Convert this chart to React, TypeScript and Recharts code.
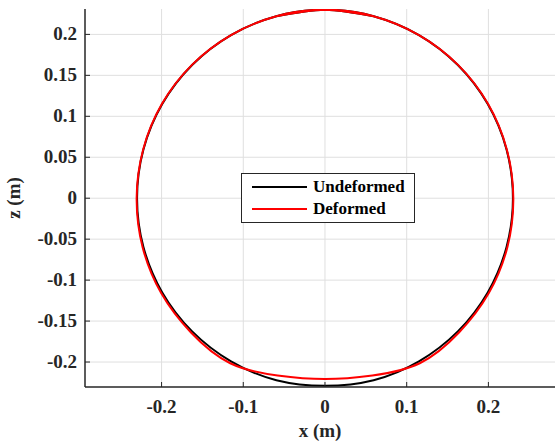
import { LineChart, Line, XAxis, YAxis, CartesianGrid, Legend } from "recharts"

// cross-section of the shell, x/z in metres (every ~15 deg, starting near the top)
const undeformedX = [0.0595, 0, -0.0595, -0.115, -0.1626, -0.1992, -0.2222, -0.23, -0.2222, -0.1992, -0.1626, -0.115, -0.0595, 0, 0.0595, 0.115, 0.1626, 0.1992, 0.2222, 0.23, 0.2222, 0.1992, 0.1626, 0.115, 0.0595, 0, -0.0595]
const undeformedZ = [0.2222, 0.23, 0.2222, 0.1992, 0.1626, 0.115, 0.0595, 0, -0.0595, -0.115, -0.1626, -0.1992, -0.2222, -0.229, -0.2222, -0.1992, -0.1626, -0.115, -0.0595, 0, 0.0595, 0.115, 0.1626, 0.1992, 0.2222, 0.23, 0.2222]

const deformedX = [0.0595, 0, -0.0595, -0.115, -0.1628, -0.1995, -0.2225, -0.2305, -0.2232, -0.2005, -0.164, -0.116, -0.058, 0, 0.058, 0.116, 0.164, 0.2005, 0.2232, 0.2305, 0.2225, 0.1995, 0.1628, 0.115, 0.0595, 0, -0.0595]
const deformedZ = [0.2222, 0.23, 0.2222, 0.1992, 0.1628, 0.1152, 0.0596, 0, -0.0598, -0.1158, -0.164, -0.2015, -0.2165, -0.2208, -0.2165, -0.2015, -0.164, -0.1158, -0.0598, 0, 0.0596, 0.1152, 0.1628, 0.1992, 0.2222, 0.23, 0.2222]

const xTicks = [-0.2, -0.1, 0, 0.1, 0.2]
const zTicks = [-0.2, -0.15, -0.1, -0.05, 0, 0.05, 0.1, 0.15, 0.2]

const seriesNames = ["Undeformed", "Deformed"]
const seriesColors = ["#000000", "#ff0000"]

const undeformed = undeformedX.map((x, i) => ({ x, z: undeformedZ[i] }))
const deformed = deformedX.map((x, i) => ({ x, z: deformedZ[i] }))

const FONT = "Liberation Serif, Times New Roman, serif"
const INK = "#262626"
const textStyle = { fontFamily: FONT, fontWeight: 700, fontSize: 19, fill: INK }

function XTick({ x, y, payload }: any) {
  return (
    <g>
      <line x1={x} y1={y} x2={x} y2={y - 5} stroke={INK} strokeWidth={1} />
      <text x={x} y={y + 26} textAnchor="middle" style={textStyle}>
        {String(payload.value)}
      </text>
    </g>
  )
}

function YTick({ x, y, payload }: any) {
  return (
    <g>
      <line x1={x} y1={y} x2={x + 5} y2={y} stroke={INK} strokeWidth={1} />
      <text x={x - 8} y={y + 6} textAnchor="end" style={textStyle}>
        {String(payload.value)}
      </text>
    </g>
  )
}

function LegendBox() {
  return (
    <div
      style={{
        border: "1.5px solid #262626",
        background: "#fff",
        width: 174,
        padding: "2px 0",
        fontFamily: FONT,
        fontWeight: "bold",
        fontSize: 17,
        color: "#000",
        boxSizing: "border-box",
      }}
    >
      {seriesNames.map((name, i) => (
        <div key={name} style={{ display: "flex", alignItems: "center", height: 22 }}>
          <span style={{ display: "inline-block", width: 55, height: 2, background: seriesColors[i], marginLeft: 10, marginRight: 6 }} />
          <span>{name}</span>
        </div>
      ))}
    </div>
  )
}

export default function App() {
  return (
    <div style={{ position: "absolute", left: 0, top: 0, background: "#fff" }}>
      <LineChart width={555} height={443} margin={{ top: 9, right: 0, left: 0, bottom: 0 }}>
        <CartesianGrid stroke="#dfdfdf" strokeWidth={1} horizontalValues={zTicks} verticalValues={xTicks} />
        <XAxis
          dataKey="x"
          type="number"
          domain={[-0.2937, 0.2815]}
          ticks={xTicks}
          allowDataOverflow
          height={56}
          tickSize={0}
          tickMargin={0}
          tick={(props: any) => <XTick {...props} />}
          axisLine={{ stroke: INK, strokeWidth: 1.5 }}
          label={{
            content: ({ viewBox }: any) => (
              <text x={viewBox.x + viewBox.width / 2} y={437} textAnchor="middle" style={textStyle}>
                x (m)
              </text>
            ),
          }}
        />
        <YAxis
          dataKey="z"
          type="number"
          domain={[-0.2305, 0.231]}
          ticks={zTicks}
          allowDataOverflow
          width={85}
          tickSize={0}
          tickMargin={0}
          tick={(props: any) => <YTick {...props} />}
          axisLine={{ stroke: INK, strokeWidth: 1.5 }}
          label={{
            content: ({ viewBox }: any) => {
              const cy = viewBox.y + viewBox.height / 2
              return (
                <text x={20} y={cy} transform={`rotate(-90 20 ${cy})`} textAnchor="middle" style={textStyle}>
                  z (m)
                </text>
              )
            },
          }}
        />
        <Legend
          layout="horizontal"
          verticalAlign="middle"
          align="center"
          content={<LegendBox />}
          wrapperStyle={{ left: 241, top: 173, width: 174 }}
        />
        <Line data={undeformed} dataKey="z" name={seriesNames[0]} type="natural" stroke={seriesColors[0]} strokeWidth={2} dot={false} isAnimationActive={false} />
        <Line data={deformed} dataKey="z" name={seriesNames[1]} type="natural" stroke={seriesColors[1]} strokeWidth={2} dot={false} isAnimationActive={false} />
      </LineChart>
    </div>
  )
}
